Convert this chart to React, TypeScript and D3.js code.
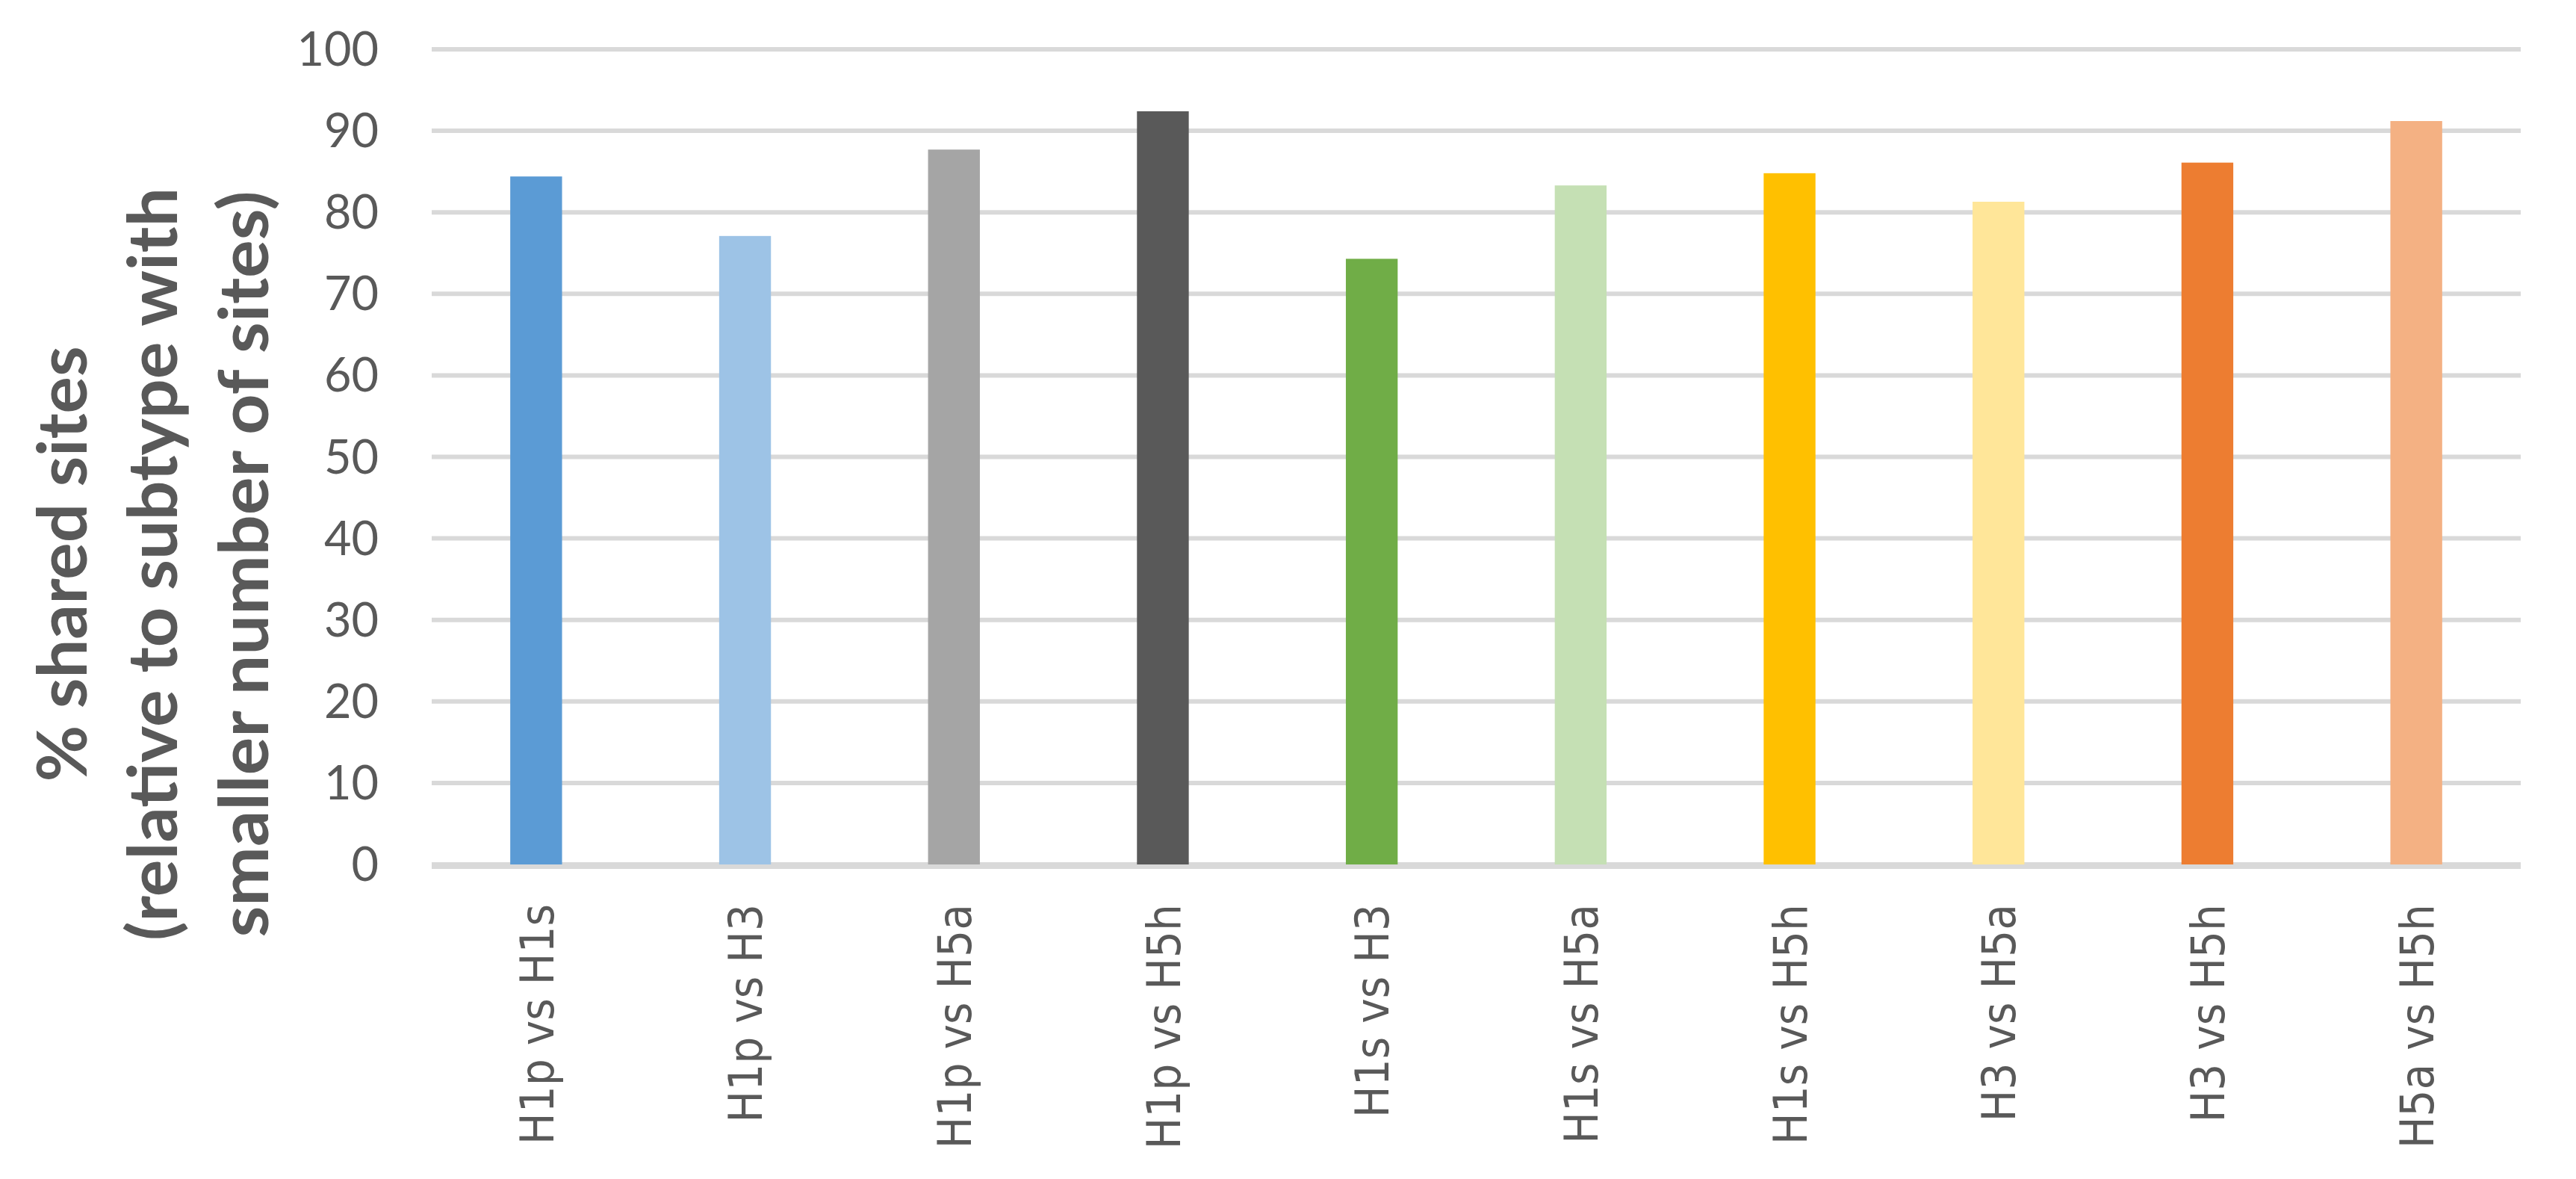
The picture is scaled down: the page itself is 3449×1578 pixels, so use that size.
import React, { useRef, useEffect } from 'react';
import * as d3 from 'd3';

const categories = [
  'H1p vs H1s',
  'H1p vs H3',
  'H1p vs H5a',
  'H1p vs H5h',
  'H1s vs H3',
  'H1s vs H5a',
  'H1s vs H5h',
  'H3 vs H5a',
  'H3 vs H5h',
  'H5a vs H5h',
];

const values = [84.4, 77.1, 87.7, 92.4, 74.3, 83.3, 84.8, 81.3, 86.1, 91.2];

const barColors = [
  '#5B9BD5',
  '#9DC3E6',
  '#A5A5A5',
  '#595959',
  '#70AD47',
  '#C5E0B4',
  '#FFC000',
  '#FFE699',
  '#ED7D31',
  '#F4B183',
];

const yTicks = [0, 10, 20, 30, 40, 50, 60, 70, 80, 90, 100];

const titleLines = [
  '% shared sites',
  '(relative to subtype with',
  'smaller number of sites)',
];

const App = () => {
  const svgRef = useRef<SVGSVGElement>(null);
  const width = 3449;
  const height = 1578;

  useEffect(() => {
    const svg = d3.select(svgRef.current);
    const margin = { top: 66, right: 74, bottom: 421, left: 578 };
    const innerWidth = width - margin.left - margin.right;
    const innerHeight = height - margin.top - margin.bottom;

    svg.selectAll('*').remove();

    const xScale = d3
      .scaleBand()
      .domain(categories)
      .range([0, innerWidth])
      .paddingInner(0.752)
      .paddingOuter(0.376);

    const yScale = d3.scaleLinear().domain([0, 100]).range([innerHeight, 0]);

    const g = svg
      .append('g')
      .attr('transform', `translate(${margin.left},${margin.top})`);

    // gridlines
    g.selectAll('line.grid')
      .data(yTicks)
      .enter()
      .append('line')
      .attr('class', 'grid')
      .attr('x1', 0)
      .attr('x2', innerWidth)
      .attr('y1', d => yScale(d))
      .attr('y2', d => yScale(d))
      .attr('stroke', '#D9D9D9')
      .attr('stroke-width', 6);

    // bars
    g.selectAll('rect.bar')
      .data(values)
      .enter()
      .append('rect')
      .attr('class', 'bar')
      .attr('x', (d, i) => xScale(categories[i]))
      .attr('y', d => yScale(d))
      .attr('width', xScale.bandwidth())
      .attr('height', d => innerHeight - yScale(d))
      .attr('fill', (d, i) => barColors[i]);

    // baseline sits just under the bars
    g.append('line')
      .attr('x1', 0)
      .attr('x2', innerWidth)
      .attr('y1', yScale(0) + 3)
      .attr('y2', yScale(0) + 3)
      .attr('stroke', '#D9D9D9')
      .attr('stroke-width', 6);

    // y tick labels
    g.selectAll('text.ytick')
      .data(yTicks)
      .enter()
      .append('text')
      .attr('class', 'ytick')
      .attr('x', -71)
      .attr('y', d => yScale(d))
      .attr('dy', '0.35em')
      .attr('text-anchor', 'end')
      .attr('font-family', 'Lato, "Open Sans", sans-serif')
      .attr('font-size', 63)
      .attr('fill', '#595959')
      .text(d => d);

    // x labels, rotated
    g.selectAll('text.xlabel')
      .data(categories)
      .enter()
      .append('text')
      .attr('class', 'xlabel')
      .attr(
        'transform',
        d => `translate(${xScale(d) + xScale.bandwidth() / 2},${innerHeight + 53}) rotate(-90)`
      )
      .attr('text-anchor', 'end')
      .attr('dy', '0.36em')
      .attr('font-family', '"DejaVu Sans Condensed", "DejaVu Sans", sans-serif')
      .attr('font-size', 63)
      .attr('fill', '#595959')
      .text(d => d);

    // y axis title, three lines
    const baselines = [116, 237, 359];
    const lineLengths = [583, 1008, 999];
    titleLines.forEach((line, i) => {
      svg
        .append('text')
        .attr('transform', `translate(${baselines[i]},755) rotate(-90)`)
        .attr('text-anchor', 'middle')
        .attr('font-family', 'Lato, "Open Sans", sans-serif')
        .attr('font-weight', 'bold')
        .attr('font-size', 92)
        .attr('fill', '#595959')
        .attr('textLength', lineLengths[i])
        .attr('lengthAdjust', 'spacingAndGlyphs')
        .text(line);
    });
  }, []);

  return (
    <div style={{ position: 'absolute', left: 0, top: 0 }}>
      <svg ref={svgRef} width={width} height={height} style={{ display: 'block', background: '#fff' }} />
    </div>
  );
};

export default App;
